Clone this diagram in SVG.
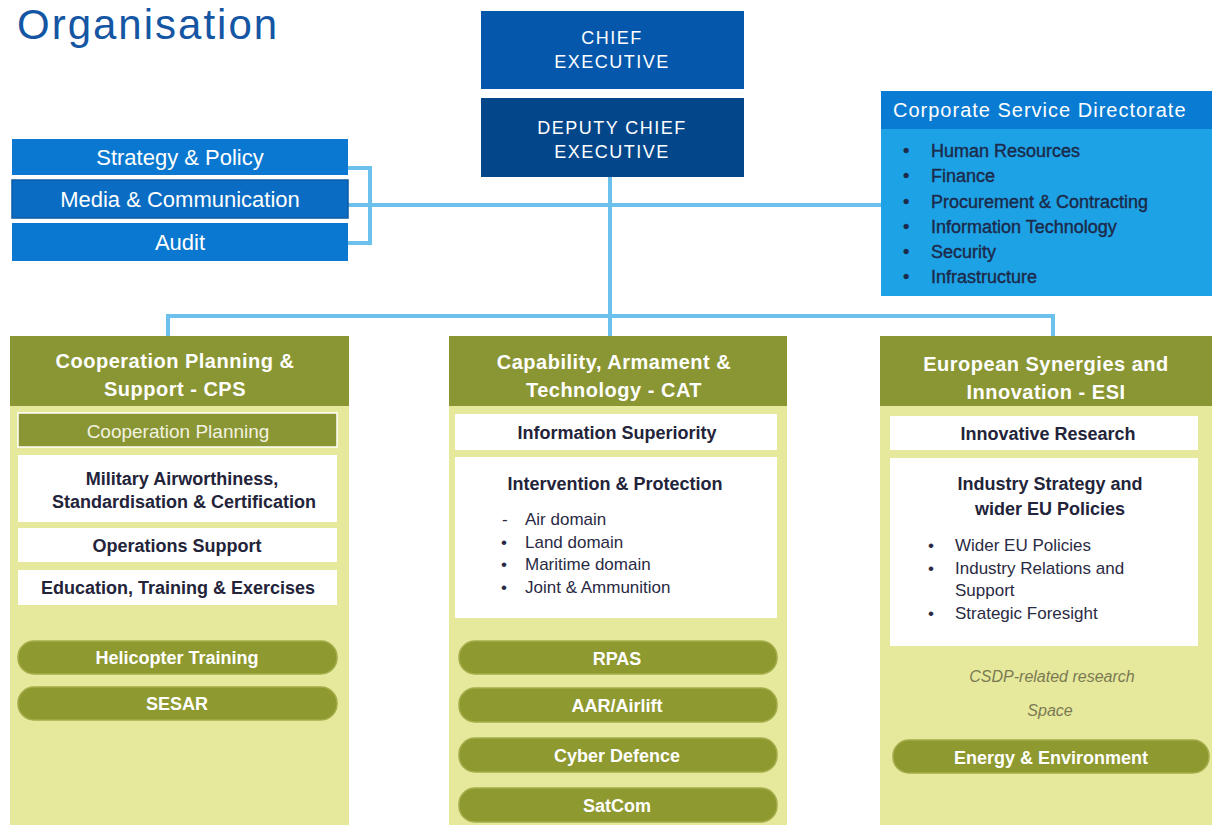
<svg xmlns="http://www.w3.org/2000/svg" width="1212" height="825" viewBox="0 0 1212 825">
<style>
text{font-family:"Liberation Sans",Arial,sans-serif}
.conn{fill:none;stroke:#6cc0ec;stroke-width:4}
.ctr{text-anchor:middle}
.exec{fill:#ffffff;font-size:18px;letter-spacing:1.5px;text-anchor:middle}
.sp{fill:#ffffff;font-size:22px;text-anchor:middle}
.hdr{fill:#ffffff;font-size:20px;font-weight:bold;text-anchor:middle;letter-spacing:0.5px}
.colbody{fill:#e6e89c}
.colhdr{fill:#8a9633}
.wbox{fill:#ffffff}
.bt{fill:#23233a;font-size:18px;font-weight:bold;text-anchor:middle}
.li{fill:#2a2a44;font-size:17px}
.pill{fill:#8e992f;stroke:#a4ad4a;stroke-width:1.5}
.pt{fill:#ffffff;font-size:18px;font-weight:bold;text-anchor:middle}
.csd{fill:#1b2a4a;font-size:18px;stroke:#1b2a4a;stroke-width:0.4}
</style>

<text x="17" y="39" font-size="42" letter-spacing="2" fill="#1456a3">Organisation</text>

<g id="connectors">
  <line class="conn" x1="610" y1="177" x2="610" y2="336"/>
  <line class="conn" x1="348" y1="205" x2="881" y2="205"/>
  <path class="conn" d="M348,168 H370 V243 H348"/>
  <path class="conn" d="M168,336 V316 H1053 V336"/>
</g>

<g id="chief-executive">
  <rect x="481" y="11" width="263" height="78" fill="#0457aa"/>
  <text class="exec" x="612" y="44">CHIEF</text>
  <text class="exec" x="612" y="68">EXECUTIVE</text>
</g>

<g id="deputy-chief-executive">
  <rect x="481" y="98" width="263" height="79" fill="#03478a"/>
  <text class="exec" x="612" y="134">DEPUTY CHIEF</text>
  <text class="exec" x="612" y="158">EXECUTIVE</text>
</g>

<g id="strategy-policy">
  <rect x="12" y="139" width="336" height="36" fill="#0a78d0"/>
  <text class="sp" x="180" y="165">Strategy &amp; Policy</text>
</g>
<g id="media-communication">
  <rect x="12" y="180" width="336" height="38" fill="#0a6cc2" stroke="#0a5aa6" stroke-width="1.5"/>
  <text class="sp" x="180" y="207">Media &amp; Communication</text>
</g>
<g id="audit">
  <rect x="12" y="223" width="336" height="38" fill="#0a78d0"/>
  <text class="sp" x="180" y="250">Audit</text>
</g>

<g id="corporate-service-directorate">
  <rect x="881" y="91" width="331" height="205" fill="#1ea2e6"/>
  <rect x="881" y="91" width="331" height="38" fill="#0a7bd2"/>
  <text x="893" y="117" font-size="20" fill="#ffffff" letter-spacing="1">Corporate Service Directorate</text>
  <g class="csd">
    <text x="903" y="157">•</text><text x="931" y="157">Human Resources</text>
    <text x="903" y="182">•</text><text x="931" y="182">Finance</text>
    <text x="903" y="208">•</text><text x="931" y="208">Procurement &amp; Contracting</text>
    <text x="903" y="233">•</text><text x="931" y="233">Information Technology</text>
    <text x="903" y="258">•</text><text x="931" y="258">Security</text>
    <text x="903" y="283">•</text><text x="931" y="283">Infrastructure</text>
  </g>
</g>

<g id="cps">
  <rect class="colbody" x="10" y="336" width="339" height="489"/>
  <rect class="colhdr" x="10" y="336" width="339" height="70"/>
  <text class="hdr" x="175" y="368">Cooperation Planning &amp;</text>
  <text class="hdr" x="175" y="396">Support - CPS</text>
  <rect x="18" y="413" width="319" height="34" fill="#8a9633" stroke="#ffffff" stroke-width="1.5"/>
  <text x="178" y="438" font-size="19" fill="#f2f2e0" class="ctr">Cooperation Planning</text>
  <rect class="wbox" x="18" y="455" width="319" height="67"/>
  <text class="bt" x="182" y="485" font-size="19">Military Airworthiness,</text>
  <text class="bt" x="184" y="508" font-size="19">Standardisation &amp; Certification</text>
  <rect class="wbox" x="18" y="528" width="319" height="34"/>
  <text class="bt" x="177" y="552">Operations Support</text>
  <rect class="wbox" x="18" y="570" width="319" height="35"/>
  <text class="bt" x="178" y="594" font-size="19">Education, Training &amp; Exercises</text>
  <rect class="pill" x="18" y="641" width="319" height="33" rx="16"/>
  <text class="pt" x="177" y="664">Helicopter Training</text>
  <rect class="pill" x="18" y="687" width="319" height="33" rx="16"/>
  <text class="pt" x="177" y="710">SESAR</text>
</g>

<g id="cat">
  <rect class="colbody" x="449" y="336" width="338" height="489"/>
  <rect class="colhdr" x="449" y="336" width="338" height="70"/>
  <text class="hdr" x="614" y="369">Capability, Armament &amp;</text>
  <text class="hdr" x="614" y="397">Technology - CAT</text>
  <rect class="wbox" x="455" y="414" width="322" height="36"/>
  <text class="bt" x="617" y="439">Information Superiority</text>
  <rect class="wbox" x="455" y="457" width="322" height="161"/>
  <text class="bt" x="615" y="490">Intervention &amp; Protection</text>
  <g class="li">
    <text x="502" y="525">-</text><text x="525" y="525">Air domain</text>
    <text x="501" y="548">•</text><text x="525" y="548">Land domain</text>
    <text x="501" y="570">•</text><text x="525" y="570">Maritime domain</text>
    <text x="501" y="593">•</text><text x="525" y="593">Joint &amp; Ammunition</text>
  </g>
  <rect class="pill" x="459" y="641" width="318" height="33" rx="16"/>
  <text class="pt" x="617" y="665">RPAS</text>
  <rect class="pill" x="459" y="688" width="318" height="34" rx="16"/>
  <text class="pt" x="617" y="712">AAR/Airlift</text>
  <rect class="pill" x="459" y="738" width="318" height="34" rx="16"/>
  <text class="pt" x="617" y="762">Cyber Defence</text>
  <rect class="pill" x="459" y="788" width="318" height="34" rx="16"/>
  <text class="pt" x="617" y="812">SatCom</text>
</g>

<g id="esi">
  <rect class="colbody" x="880" y="336" width="332" height="489"/>
  <rect class="colhdr" x="880" y="336" width="332" height="70"/>
  <text class="hdr" x="1046" y="371">European Synergies and</text>
  <text class="hdr" x="1046" y="399">Innovation - ESI</text>
  <rect class="wbox" x="890" y="416" width="308" height="34"/>
  <text class="bt" x="1048" y="440">Innovative Research</text>
  <rect class="wbox" x="890" y="458" width="308" height="188"/>
  <text class="bt" x="1050" y="490">Industry Strategy and</text>
  <text class="bt" x="1050" y="515">wider EU Policies</text>
  <g class="li">
    <text x="928" y="551">•</text><text x="955" y="551">Wider EU Policies</text>
    <text x="928" y="574">•</text><text x="955" y="574">Industry Relations and</text>
    <text x="955" y="596">Support</text>
    <text x="928" y="619">•</text><text x="955" y="619">Strategic Foresight</text>
  </g>
  <text x="1052" y="682" font-size="16" font-style="italic" fill="#7a7a52" class="ctr">CSDP-related research</text>
  <text x="1050" y="716" font-size="16" font-style="italic" fill="#7a7a52" class="ctr">Space</text>
  <rect class="pill" x="893" y="740" width="316" height="33" rx="16"/>
  <text class="pt" x="1051" y="764">Energy &amp; Environment</text>
</g>
</svg>
